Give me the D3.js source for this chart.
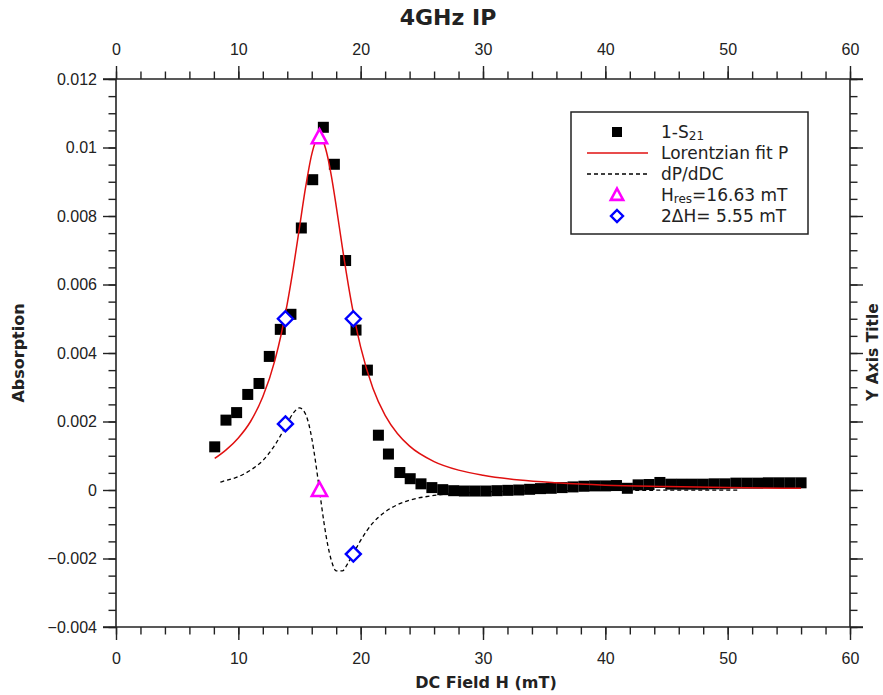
<!DOCTYPE html>
<html lang="en">
<head>
    <meta charset="UTF-8">
    <title>4GHz IP</title>
    <script src="https://d3js.org/d3.v7.min.js"></script>
    <style>
        body { margin: 0; background: #fff; }
        svg { display: block; font-family: "DejaVu Sans", sans-serif; }
        .tick text { font-size: 16px; fill: #222; }
        .tick line { stroke: #222; stroke-width: 1.4; }
    </style>
</head>
<body>
<svg id="chart" width="883" height="695"></svg>
<script>
    // 1-S21 measured points (field in mT, absorption)
    const fieldH = [8.07, 8.99, 9.86, 10.77, 11.69, 12.53, 13.43, 14.30, 15.15, 16.08,
        16.95, 17.85, 18.77, 19.62, 20.55, 21.45, 22.27, 23.20, 24.05, 24.93,
        25.82, 26.71, 27.60, 28.48, 29.37, 30.26, 31.15, 32.03, 32.92, 33.81,
        34.70, 35.58, 36.47, 37.36, 38.25, 39.13, 40.02, 40.91, 41.80, 42.68,
        43.57, 44.46, 45.35, 46.23, 47.12, 48.01, 48.90, 49.78, 50.67, 51.56,
        52.45, 53.33, 54.22, 55.11, 56.00];
    const absorption = [0.00126, 0.00204, 0.00226, 0.00279, 0.00311, 0.0039, 0.00469, 0.00513, 0.00765, 0.00906,
        0.01059, 0.00951, 0.0067, 0.00467, 0.0035, 0.0016, 0.00105, 0.00051, 0.00033, 0.00018,
        0.00007, 0.00001, -0.00002, -0.00003, -0.00003, -0.00003, -0.00002, -0.00001, 0.0, 0.00002,
        0.00004, 0.00005, 0.00007, 0.00009, 0.00011, 0.00012, 0.00012, 0.00013, 0.00005, 0.00015,
        0.00016, 0.00022, 0.00017, 0.00017, 0.00017, 0.00017, 0.00018, 0.00018, 0.0002, 0.0002,
        0.0002, 0.00021, 0.00021, 0.00021, 0.00021];

    // Lorentzian fit P
    const fitH = [8.07, 9, 10, 11, 12, 13, 13.5, 14, 14.5, 15, 15.5, 16, 16.3, 16.63, 17, 17.3, 17.6,
        18, 18.5, 19, 19.5, 20, 21, 22, 23, 24, 26, 28, 30, 33, 36, 40, 45, 50, 56];
    const fitP = [0.00092, 0.00117, 0.00152, 0.002, 0.00272, 0.0038, 0.00454, 0.00544, 0.00649,
        0.00767, 0.00884, 0.0098, 0.01016, 0.0103, 0.01012, 0.00973, 0.00918, 0.00829, 0.00709,
        0.00597, 0.00499, 0.00417, 0.00297, 0.00218, 0.00165, 0.00128, 0.00083, 0.00058, 0.00043,
        0.00029, 0.00021, 0.00014, 0.0001, 0.00007, 0.00005];

    // dP/dDC
    const derivH = [8.53, 9, 10, 11, 12, 13, 13.5, 14, 14.5, 15, 15.5, 16, 16.3, 16.63, 17, 17.3, 17.6,
        18, 18.5, 19, 19.5, 20, 21, 22, 23, 24, 26, 28, 30, 33, 36, 40, 45, 51];
    const derivP = [0.00023, 0.00028, 0.00039, 0.00058, 0.00086, 0.00132, 0.00162, 0.00195, 0.00225,
        0.0024, 0.00221, 0.00152, 0.00085, 0.0, -0.00095, -0.00159, -0.00205, -0.00236, -0.00236,
        -0.00211, -0.00179, -0.00147, -0.00096, -0.00064, -0.00043, -0.0003, -0.00016, -0.0001,
        -0.00006, -0.00003, -0.00002, -0.00001, -0.000006, -0.000003];

    // H_res markers and 2ΔH markers
    const resH = [16.63, 16.63];
    const resP = [0.0103, 0.0];
    const widthH = [13.85, 19.40, 13.85, 19.40];
    const widthP = [0.005, 0.005, 0.00193, -0.00187];

    const xTicks = [0, 10, 20, 30, 40, 50, 60];
    const yTicks = [0.012, 0.01, 0.008, 0.006, 0.004, 0.002, 0, -0.002, -0.004];
    const yTickLabels = ["0.012", "0.01", "0.008", "0.006", "0.004", "0.002", "0", "\u22120.002", "\u22120.004"];
    const legendNames = ["1-S21", "Lorentzian fit P", "dP/dDC", "Hres=16.63 mT", "2\u0394H= 5.55 mT"];

    const svg = d3.select("#chart");
    svg.append("rect").attr("width", 883).attr("height", 695).attr("fill", "#fff");

    const pLeft = 116, pRight = 850, pTop = 79, pBottom = 627;
    const x = d3.scaleLinear().domain([0, 60]).range([pLeft, pRight]);
    const y = d3.scaleLinear().domain([-0.004, 0.012]).range([pBottom, pTop]);

    const xMinor = d3.range(0, 61, 2);
    const yMinor = d3.range(0, 33).map(i => -0.004 + i * 0.0005);

    function addAxis(axis, tx, ty) {
        const g = svg.append("g").attr("transform", `translate(${tx},${ty})`).call(axis);
        g.select(".domain").remove();
        return g;
    }

    // bottom
    addAxis(d3.axisBottom(x).tickValues(xMinor).tickSize(7.5).tickFormat(""), 0, pBottom);
    addAxis(d3.axisBottom(x).tickValues(xTicks).tickSize(13).tickPadding(13).tickFormat(d3.format("d")), 0, pBottom);
    // top
    addAxis(d3.axisTop(x).tickValues(xMinor).tickSize(7.5).tickFormat(""), 0, pTop);
    addAxis(d3.axisTop(x).tickValues(xTicks).tickSize(13).tickPadding(11).tickFormat(d3.format("d")), 0, pTop);
    // left
    addAxis(d3.axisLeft(y).tickValues(yMinor).tickSize(7.5).tickFormat(""), pLeft, 0);
    addAxis(d3.axisLeft(y).tickValues(yTicks).tickSize(13).tickPadding(6).tickFormat((d, i) => yTickLabels[i]), pLeft, 0);
    // right (no labels)
    addAxis(d3.axisRight(y).tickValues(yMinor).tickSize(7.5).tickFormat(""), pRight, 0);
    addAxis(d3.axisRight(y).tickValues(yTicks).tickSize(13).tickFormat(""), pRight, 0);

    // frame lines, horizontal ones run past the box
    const frame = svg.append("g").attr("stroke", "#222").attr("stroke-width", 1.6);
    frame.append("line").attr("x1", 103).attr("x2", 863).attr("y1", pTop).attr("y2", pTop);
    frame.append("line").attr("x1", 103).attr("x2", 863).attr("y1", pBottom).attr("y2", pBottom);
    frame.append("line").attr("x1", pLeft).attr("x2", pLeft).attr("y1", pTop).attr("y2", pBottom);
    frame.append("line").attr("x1", pRight).attr("x2", pRight).attr("y1", pTop).attr("y2", pBottom);

    // data squares
    svg.append("g").selectAll("rect")
        .data(fieldH.map((h, i) => [h, absorption[i]]))
        .join("rect")
        .attr("x", d => x(d[0]) - 5.5)
        .attr("y", d => y(d[1]) - 5.5)
        .attr("width", 11).attr("height", 11)
        .attr("fill", "#000");

    const line = d3.line().x(d => x(d[0])).y(d => y(d[1])).curve(d3.curveMonotoneX);

    svg.append("path")
        .attr("d", line(fitH.map((h, i) => [h, fitP[i]])))
        .attr("fill", "none").attr("stroke", "#e01010").attr("stroke-width", 1.5);

    svg.append("path")
        .attr("d", line(derivH.map((h, i) => [h, derivP[i]])))
        .attr("fill", "none").attr("stroke", "#000").attr("stroke-width", 1.3)
        .attr("stroke-dasharray", "4,3");

    // marker shapes
    function triPath(cx, cy, s) {
        return `M${cx},${cy - s}L${cx + s * 0.95},${cy + s * 0.75}L${cx - s * 0.95},${cy + s * 0.75}Z`;
    }
    function diaPath(cx, cy, s) {
        return `M${cx},${cy - s}L${cx + s},${cy}L${cx},${cy + s}L${cx - s},${cy}Z`;
    }

    svg.append("g").selectAll("path")
        .data(resH.map((h, i) => [h, resP[i]]))
        .join("path")
        .attr("d", d => triPath(x(d[0]), y(d[1]), 8))
        .attr("fill", "#fff").attr("stroke", "#ff00ff").attr("stroke-width", 2.6);

    svg.append("g").selectAll("path")
        .data(widthH.map((h, i) => [h, widthP[i]]))
        .join("path")
        .attr("d", d => diaPath(x(d[0]), y(d[1]), 7.5))
        .attr("fill", "#fff").attr("stroke", "#0000ff").attr("stroke-width", 2.4);

    // legend
    const lg = svg.append("g");
    lg.append("rect").attr("x", 571).attr("y", 112).attr("width", 237).attr("height", 122)
        .attr("fill", "#fff").attr("stroke", "#222").attr("stroke-width", 1.5);
    const rowY = [132, 153, 174, 195, 216];
    const mx = 617, tx = 661;
    lg.append("rect").attr("x", mx - 5).attr("y", rowY[0] - 5).attr("width", 10).attr("height", 10).attr("fill", "#000");
    lg.append("line").attr("x1", 587).attr("x2", 648).attr("y1", rowY[1]).attr("y2", rowY[1])
        .attr("stroke", "#e01010").attr("stroke-width", 1.5);
    lg.append("line").attr("x1", 587).attr("x2", 648).attr("y1", rowY[2]).attr("y2", rowY[2])
        .attr("stroke", "#000").attr("stroke-width", 1.3).attr("stroke-dasharray", "4,3");
    lg.append("path").attr("d", triPath(mx, rowY[3], 6.5))
        .attr("fill", "#fff").attr("stroke", "#ff00ff").attr("stroke-width", 2.6);
    lg.append("path").attr("d", diaPath(mx, rowY[4], 6))
        .attr("fill", "#fff").attr("stroke", "#0000ff").attr("stroke-width", 2.4);

    const ltext = lg.append("g").attr("font-size", 17).attr("fill", "#222");
    // 1-S21 with subscript
    const t0 = ltext.append("text").attr("x", tx).attr("y", rowY[0] + 6);
    t0.append("tspan").text("1-S");
    t0.append("tspan").attr("font-size", 12).attr("dy", 2).text("21");
    ltext.append("text").attr("x", tx).attr("y", rowY[1] + 6).text(legendNames[1]);
    ltext.append("text").attr("x", tx).attr("y", rowY[2] + 6).text(legendNames[2]);
    const t3 = ltext.append("text").attr("x", tx).attr("y", rowY[3] + 6);
    t3.append("tspan").text("H");
    t3.append("tspan").attr("font-size", 12).attr("dy", 2).text("res");
    t3.append("tspan").attr("dy", -2).text("=16.63 mT");
    ltext.append("text").attr("x", tx).attr("y", rowY[4] + 6).text(legendNames[4]);

    // titles
    svg.append("text").attr("x", 448).attr("y", 25).attr("text-anchor", "middle")
        .attr("font-size", 22).attr("font-weight", "bold").attr("fill", "#222").text("4GHz IP");
    svg.append("text").attr("x", 486).attr("y", 688).attr("text-anchor", "middle")
        .attr("font-size", 16).attr("font-weight", "bold").attr("fill", "#222").text("DC Field H (mT)");
    svg.append("text").attr("transform", "translate(24,353) rotate(-90)").attr("text-anchor", "middle")
        .attr("font-size", 16).attr("font-weight", "bold").attr("fill", "#222").text("Absorption");
    svg.append("text").attr("transform", "translate(878,352) rotate(-90)").attr("text-anchor", "middle")
        .attr("font-size", 15.5).attr("font-weight", "bold").attr("fill", "#222").text("Y Axis Title");
</script>
</body>
</html>
